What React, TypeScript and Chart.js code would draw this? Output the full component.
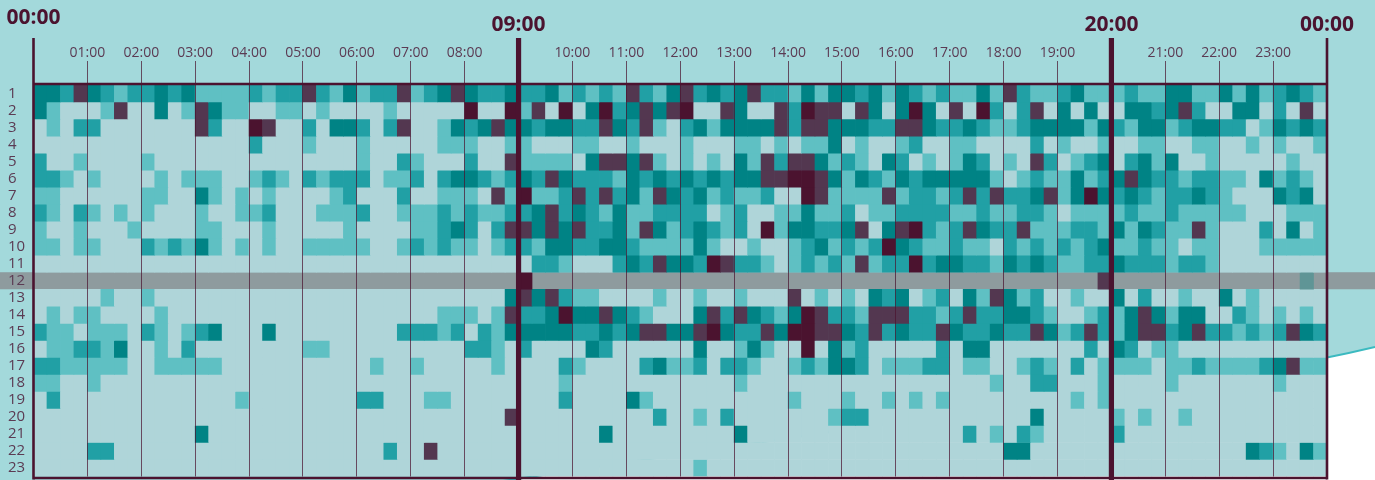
import React, { useEffect, useRef } from "react";
import { Chart, registerables } from "chart.js";

Chart.register(...registerables);

const FONT = '"Open Sans", "Noto Sans", sans-serif';
const INK = "#4b132f";
const SOFT_INK = "#5b3b53";

const rowLabels = ["1","2","3","4","5","6","7","8","9","10","11","12","13","14","15","16","17","18","19","20","21","22","23"];
const hourLabels = ["00:00","01:00","02:00","03:00","04:00","05:00","06:00","07:00","08:00","09:00","10:00","11:00","12:00","13:00","14:00","15:00","16:00","17:00","18:00","19:00","20:00","21:00","22:00","23:00","00:00"];
const majorHours = [0, 9, 20, 24];
const levelColors = ["#afd5d9", "#5fc0c3", "#21a0a5", "#008385", "#533750", "#4b132f", "#5f9596"];
const bandRowIndex = 11;

const row01 = [3,3,2,4, 3,2,1,2, 2,3,2,3, 1,1,1,1, 2,1,2,2, 4,2,1,3, 1,2,2,4, 1,2,3,4, 3,2,2,3, 2,2,3,1, 2,1,2,1, 4,2,1,3, 4,2,3,2, 3,4,2,2, 1,3,1,3, 3,2,3,1, 3,2,1,2, 1,1,3,1, 4,2,1,1, 2,3,1,1, 1,2,1,1, 3,3,1,1, 3,1,3,1, 2,3,2,1];
const row02 = [3,1,0,0, 0,1,4,0, 0,3,0,1, 4,3,1,1, 0,0,1,1, 0,1,0,0, 0,0,1,0, 0,0,0,0, 5,0,0,5, 1,4,0,5, 0,3,5,2, 3,4,3,4, 5,0,0,4, 3,0,0,4, 2,5,4,4, 0,4,3,0, 3,5,3,0, 4,0,5,2, 0,2,4,0, 3,0,3,0, 0,3,3,2, 3,4,2,0, 0,3,3,0, 2,0,4,0];
const row03 = [0,1,0,2, 2,0,0,0, 0,0,0,0, 4,2,0,0, 5,4,0,0, 2,0,3,3, 2,0,2,4, 0,0,1,3, 2,3,4,3, 3,2,3,3, 2,2,4,3, 2,4,1,0, 2,3,1,3, 3,3,3,4, 2,4,4,3, 3,3,2,2, 4,4,3,2, 2,3,2,1, 1,2,3,3, 3,3,1,3, 2,1,3,3, 1,2,3,3, 2,2,0,1, 3,2,3,2];
const row04 = [0,0,0,0, 0,0,0,0, 0,0,0,0, 0,0,0,0, 2,0,0,0, 1,0,0,0, 1,0,0,0, 0,0,1,1, 1,0,0,1, 1,0,0,0, 1,1,0,0, 1,0,0,0, 1,0,0,0, 1,1,0,1, 0,1,1,3, 0,1,0,0, 1,2,0,0, 1,1,0,0, 0,0,2,0, 1,0,0,1, 0,0,1,1, 0,0,1,1, 0,0,1,0, 1,0,0,1];
const row05 = [2,0,0,1, 0,0,0,0, 1,0,0,0, 0,0,0,0, 0,0,0,0, 0,0,0,0, 1,0,0,2, 1,0,0,0, 2,0,0,4, 1,1,1,1, 0,3,4,4, 3,4,1,0, 1,0,1,0, 3,1,4,2, 4,4,3,1, 2,1,0,3, 2,0,1,0, 1,3,2,0, 1,0,4,2, 0,1,2,3, 0,2,3,1, 3,0,0,1, 0,0,0,0, 0,1,0,0];
const row06 = [2,2,1,0, 1,0,0,0, 0,1,0,1, 1,1,0,0, 1,2,1,0, 2,1,2,2, 2,0,1,1, 2,0,2,3, 3,2,1,2, 3,2,4,3, 2,2,2,1, 3,2,3,2, 3,2,3,2, 3,3,4,4, 5,5,4,3, 1,3,2,1, 3,2,3,3, 3,3,3,1, 0,1,2,1, 1,3,1,2, 3,4,3,2, 2,1,2,2, 1,1,0,3, 1,2,1,0];
const row07 = [1,1,0,0, 0,0,0,0, 1,1,0,0, 3,1,0,1, 0,1,0,0, 0,0,1,2, 0,0,0,2, 0,0,1,1, 1,0,4,1, 5,1,1,2, 4,2,4,2, 3,1,4,3, 2,3,1,2, 1,1,2,0, 0,5,4,1, 1,1,1,4, 1,2,2,1, 2,4,2,4, 2,2,3,4, 1,3,5,3, 2,3,2,1, 2,2,3,2, 1,0,0,0, 3,2,3,0];
const row08 = [2,1,0,2, 1,0,1,0, 1,0,0,0, 1,0,0,1, 1,2,0,0, 0,1,1,1, 2,0,0,1, 1,1,2,1, 2,1,1,2, 2,3,4,2, 3,2,1,3, 1,1,2,2, 2,2,0,1, 2,0,0,1, 1,3,1,1, 2,0,1,1, 2,2,2,2, 1,1,2,1, 1,2,2,1, 0,1,1,1, 1,2,1,1, 2,1,1,1, 1,1,0,0, 0,1,1,1];
const row09 = [1,0,0,1, 0,0,0,1, 0,0,0,0, 1,1,0,0, 0,1,0,0, 0,0,0,1, 0,0,0,0, 1,1,2,3, 2,0,2,4, 4,3,4,3, 4,2,2,3, 1,4,3,1, 2,3,2,1, 2,0,5,1, 3,3,2,2, 3,4,0,3, 4,5,2,1, 2,4,3,2, 2,4,1,1, 1,2,2,1, 3,1,3,2, 1,1,4,1, 0,0,0,2, 0,3,0,1];
const row10 = [1,1,0,1, 1,0,0,0, 2,1,2,1, 3,1,0,1, 0,1,0,0, 1,1,1,1, 1,0,0,1, 2,1,2,1, 1,0,1,2, 2,1,3,3, 2,2,3,3, 2,1,1,1, 1,3,1,0, 0,1,0,0, 1,2,3,1, 2,1,2,5, 3,2,1,1, 2,1,1,0, 2,1,2,1, 2,1,2,3, 1,1,2,1, 1,0,1,1, 0,0,0,1, 1,1,1,1];
const row11 = [0,0,0,0, 0,0,0,0, 0,0,0,0, 0,0,0,0, 0,0,0,0, 0,0,0,0, 0,0,0,0, 0,0,0,0, 0,0,0,0, 0,2,2,1, 0,0,0,2, 3,2,4,3, 3,2,5,4, 2,2,1,0, 1,2,1,2, 1,4,1,2, 2,5,2,3, 3,2,2,1, 3,2,3,2, 1,1,2,2, 3,2,2,2, 1,2,2,1, 0,0,0,0, 0,0,0,0];
const row12 = [0,0,0,0, 0,0,0,0, 0,0,0,0, 0,0,0,0, 0,0,0,0, 0,0,0,0, 0,0,0,0, 0,0,0,0, 0,0,0,0, 5,0,0,0, 0,0,0,0, 0,0,0,0, 0,0,0,0, 0,0,0,0, 0,0,0,0, 0,0,0,0, 0,0,0,0, 0,0,0,0, 0,0,0,0, 0,0,0,4, 0,0,0,0, 0,0,0,0, 0,0,0,0, 0,0,6,0];
const row13 = [0,0,0,0, 0,1,0,0, 1,0,0,0, 0,0,0,0, 0,0,0,0, 0,0,0,0, 0,0,0,0, 0,0,0,0, 0,0,0,3, 4,3,4,2, 1,1,0,0, 0,0,1,0, 0,1,0,0, 1,0,0,0, 4,0,1,0, 1,0,3,2, 3,0,1,2, 0,3,1,4, 3,1,2,0, 0,1,0,0, 3,0,2,0, 0,1,0,0, 3,0,1,0, 0,0,0,0];
const row14 = [0,1,0,1, 1,0,0,0, 0,1,0,0, 0,0,0,0, 0,0,0,0, 0,0,0,0, 0,0,0,0, 0,0,1,1, 1,0,1,4, 2,2,3,5, 3,3,4,3, 2,1,0,0, 0,3,4,2, 4,3,2,1, 3,5,4,2, 2,1,4,4, 4,2,2,1, 2,4,2,2, 3,3,2,1, 0,0,1,2, 1,3,4,3, 1,3,3,0, 0,2,1,0, 1,0,1,0];
const row15 = [2,1,1,0, 1,1,1,0, 2,1,0,1, 2,3,0,0, 0,3,0,0, 0,0,0,0, 0,0,0,2, 2,2,1,2, 0,2,1,3, 3,3,3,3, 2,2,3,2, 3,4,4,3, 3,4,5,3, 2,2,4,3, 5,5,4,4, 3,2,4,2, 3,2,2,4, 3,2,2,3, 2,2,4,3, 1,2,4,2, 1,3,4,4, 2,3,4,2, 2,1,2,1, 2,4,3,2];
const row16 = [0,1,1,2, 2,1,3,0, 0,1,0,2, 0,0,0,0, 0,0,0,0, 1,1,0,0, 0,0,0,0, 0,0,0,0, 2,2,1,0, 2,0,0,0, 0,3,2,0, 0,0,0,0, 0,3,0,0, 1,3,1,0, 0,5,0,3, 1,2,0,0, 0,0,0,2, 0,3,3,0, 0,0,0,0, 0,0,2,0, 3,2,0,1, 1,0,0,0, 0,0,0,0, 0,0,0,0];
const row17 = [2,2,1,1, 1,1,1,0, 0,1,1,1, 1,1,0,0, 0,0,0,0, 0,0,0,0, 0,1,0,0, 1,0,0,0, 0,0,1,0, 0,0,0,2, 1,0,0,0, 0,2,3,1, 1,2,0,2, 2,1,0,0, 1,2,1,3, 3,2,0,1, 1,1,2,2, 0,1,1,0, 0,1,2,1, 0,2,0,1, 1,1,1,0, 1,1,2,1, 1,1,1,2, 3,4,1,1];
const row18 = [1,1,0,0, 1,0,0,0, 0,0,0,0, 0,0,0,0, 0,0,0,0, 0,0,0,0, 0,0,0,0, 0,0,0,0, 0,0,0,0, 0,0,0,1, 0,0,0,0, 0,0,0,0, 0,0,0,0, 1,0,0,0, 0,0,0,0, 0,0,0,0, 0,0,0,0, 0,0,0,1, 0,0,2,2, 0,0,0,1, 0,0,0,0, 1,0,0,0, 0,0,0,0, 1,0,0,0];
const row19 = [0,2,0,0, 0,0,0,0, 0,0,0,0, 0,0,0,1, 0,0,0,0, 0,0,0,0, 2,2,0,0, 0,1,1,0, 0,0,0,0, 0,0,0,2, 0,0,0,0, 3,1,0,0, 0,0,0,0, 0,0,0,0, 1,0,0,0, 1,0,0,1, 0,1,0,1, 0,0,0,0, 0,0,0,0, 0,1,0,1, 0,0,0,0, 0,0,0,0, 0,0,0,0, 0,0,0,0];
const row20 = [0,0,0,0, 0,0,0,0, 0,0,0,0, 0,0,0,0, 0,0,0,0, 0,0,0,0, 0,0,0,0, 0,0,0,0, 0,0,0,4, 0,0,0,0, 0,0,0,0, 0,0,2,0, 0,1,0,2, 0,0,0,0, 0,0,0,1, 2,2,0,0, 0,0,0,0, 0,0,0,0, 0,0,3,0, 0,0,0,0, 1,0,1,0, 0,1,0,0, 0,0,0,0, 0,0,0,0];
const row21 = [0,0,0,0, 0,0,0,0, 0,0,0,0, 3,0,0,0, 0,0,0,0, 0,0,0,0, 0,0,0,0, 0,0,0,0, 0,0,0,0, 0,0,0,0, 0,0,3,0, 0,0,0,0, 0,0,0,0, 3,0,0,0, 0,0,0,0, 0,0,0,0, 0,0,0,0, 0,2,0,1, 0,2,1,0, 0,0,0,0, 2,0,0,0, 0,0,0,0, 0,0,0,0, 0,0,0,0];
const row22 = [0,0,0,0, 2,2,0,0, 0,0,0,0, 0,0,0,0, 0,0,0,0, 0,0,0,0, 0,0,2,0, 0,4,0,0, 0,0,0,0, 0,0,0,0, 0,0,0,0, 0,0,0,0, 0,0,0,0, 0,0,0,0, 0,0,0,0, 0,0,0,0, 0,0,0,0, 0,0,0,0, 3,3,0,0, 0,0,0,0, 0,0,0,0, 0,0,0,0, 0,0,3,2, 1,0,3,1];
const row23 = [0,0,0,0, 0,0,0,0, 0,0,0,0, 0,0,0,0, 0,0,0,0, 0,0,0,0, 0,0,0,0, 0,0,0,0, 0,0,0,0, 0,0,0,0, 0,0,0,0, 0,0,0,0, 0,1,0,0, 0,0,0,0, 0,0,0,0, 0,0,0,0, 0,0,0,0, 0,0,0,0, 0,0,0,0, 0,0,0,0, 0,0,0,0, 0,0,0,0, 0,0,0,0, 0,0,0,0];

const rows = [row01,row02,row03,row04,row05,row06,row07,row08,row09,row10,row11,row12,row13,row14,row15,row16,row17,row18,row19,row20,row21,row22,row23];

const framePlugin = {
  id: "frame",
  beforeDraw(chart: any) {
    const { ctx, width, height, scales } = chart;
    ctx.save();
    ctx.fillStyle = "#ffffff";
    ctx.fillRect(0, 0, width, height);
    ctx.beginPath();
    ctx.moveTo(0, 0);
    ctx.lineTo(width, 0);
    ctx.lineTo(width, 347);
    ctx.quadraticCurveTo(1350, 353, 1327, 357.5);
    ctx.lineTo(503, 481);
    ctx.lineTo(0, 481);
    ctx.closePath();
    ctx.fillStyle = "#a3d9db";
    ctx.fill();
    ctx.beginPath();
    ctx.moveTo(width, 347);
    ctx.quadraticCurveTo(1350, 353, 1327, 357.5);
    ctx.lineTo(503, 481);
    ctx.strokeStyle = "#3bbac0";
    ctx.lineWidth = 2;
    ctx.stroke();
    const top = scales.y.getPixelForValue(bandRowIndex);
    const bottom = scales.y.getPixelForValue(bandRowIndex + 1);
    ctx.fillStyle = "#8e9b9e";
    ctx.fillRect(0, top, width, bottom - top);
    ctx.restore();
  },
  afterDraw(chart: any) {
    const { ctx, scales, chartArea } = chart;
    const x = scales.x;
    ctx.save();
    ctx.strokeStyle = INK;
    ctx.lineCap = "butt";
    ctx.lineWidth = 2.6;
    ctx.beginPath();
    ctx.moveTo(chartArea.left, chartArea.top - 1);
    ctx.lineTo(chartArea.right, chartArea.top - 1);
    ctx.moveTo(chartArea.left, chartArea.bottom + 1.5);
    ctx.lineTo(chartArea.right, chartArea.bottom + 1.5);
    ctx.stroke();
    ctx.fillStyle = INK;
    ctx.font = `700 21px ${FONT}`;
    ctx.textAlign = "center";
    ctx.textBaseline = "middle";
    majorHours.forEach((h, i) => {
      const px = x.getPixelForValue(h * 4);
      const edge = i === 0 || i === majorHours.length - 1;
      ctx.lineWidth = edge ? 2.6 : 5.2;
      ctx.beginPath();
      ctx.moveTo(px, 38);
      ctx.lineTo(px, edge ? chartArea.bottom + 3 : 480);
      ctx.stroke();
      ctx.fillText(hourLabels[h], px, i === 0 ? 18 : 25);
    });
    ctx.restore();
  },
};

export default function App() {
  const ref = useRef<HTMLCanvasElement>(null);
  useEffect(() => {
    document.body.style.margin = "0";
    const chart = new Chart(ref.current as HTMLCanvasElement, {
      type: "bar",
      data: {
        datasets: rows.map((row, r) => ({
          label: rowLabels[r],
          data: row.map((_, c) => ({ x: c + 0.5, y: 1 })),
          backgroundColor: row.map((v) =>
            r === bandRowIndex && v === 0 ? "rgba(0,0,0,0)" : levelColors[v]
          ),
          borderWidth: 0,
          barPercentage: 1,
          categoryPercentage: 1,
        })),
      },
      options: {
        responsive: false,
        animation: false,
        devicePixelRatio: 1,
        events: [],
        layout: { autoPadding: false, padding: { left: 8, right: 48, top: 0, bottom: 3.5 } },
        plugins: { legend: { display: false }, tooltip: { enabled: false }, title: { display: false } },
        scales: {
          x: {
            type: "linear",
            position: "top",
            stacked: true,
            offset: false,
            min: 0,
            max: 96,
            afterFit: (s: any) => { s.height = 85; s.paddingLeft = 0; s.paddingRight = 0; },
            border: { display: false },
            grid: {
              z: 1,
              offset: false,
              drawOnChartArea: true,
              drawTicks: true,
              tickLength: 24,
              lineWidth: 1,
              color: (ctx: any) =>
                ctx.tick && majorHours.includes(ctx.tick.value / 4) ? "rgba(0,0,0,0)" : "rgba(75,19,47,0.72)",
            },
            ticks: {
              stepSize: 4,
              autoSkip: false,
              maxRotation: 0,
              minRotation: 0,
              padding: 0,
              color: SOFT_INK,
              font: { family: FONT, size: 14 },
              callback: (v: any) => (majorHours.includes(v / 4) ? "" : hourLabels[v / 4]),
            },
          },
          y: {
            type: "linear",
            stacked: true,
            reverse: true,
            min: 0,
            max: 23,
            afterBuildTicks: (s: any) => { s.ticks = rowLabels.map((_, i) => ({ value: i + 0.5 })); },
            afterFit: (s: any) => { s.width = 25.5; s.paddingTop = 0; s.paddingBottom = 0; },
            border: { display: false },
            grid: { display: false, drawTicks: false },
            ticks: {
              autoSkip: false,
              padding: 0,
              crossAlign: "far",
              color: SOFT_INK,
              font: { family: FONT, size: 15 },
              callback: (v: any) => rowLabels[Math.floor(v)],
            },
          },
        },
      } as any,
      plugins: [framePlugin],
    });
    return () => chart.destroy();
  }, []);
  return <canvas ref={ref} width={1375} height={480} style={{ display: "block" }} />;
}
